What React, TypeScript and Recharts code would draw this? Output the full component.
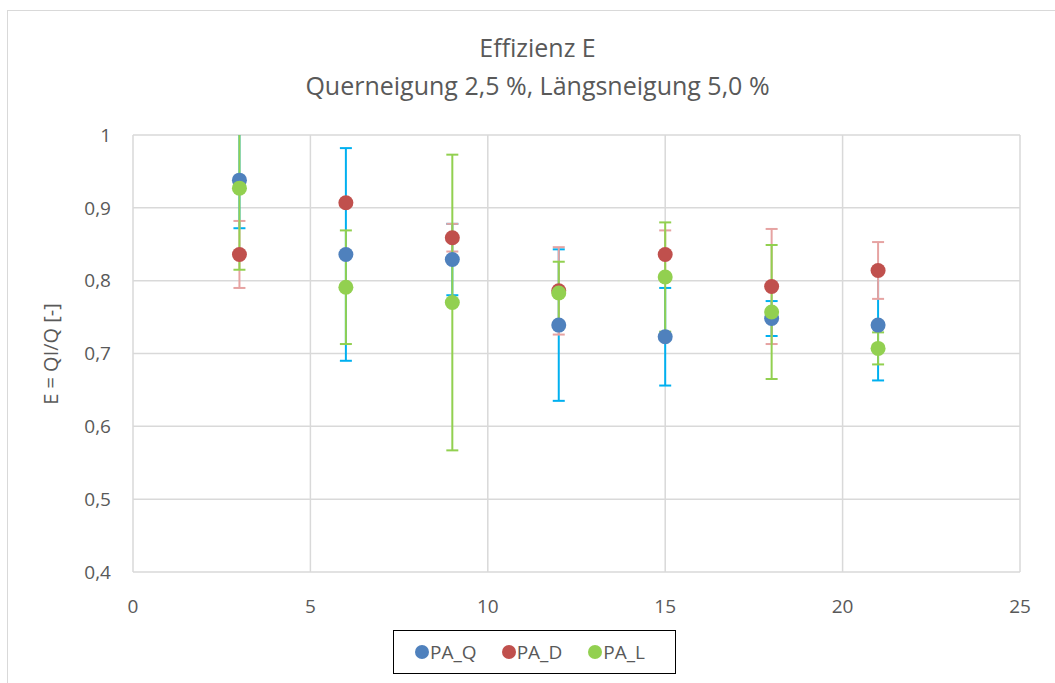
import { ScatterChart, Scatter, XAxis, YAxis, CartesianGrid, ErrorBar } from 'recharts'

// Messpunkte (x-Werte) und Effizienzen je Serie
const xValues = [3, 6, 9, 12, 15, 18, 21]

const paQ = [0.938, 0.836, 0.829, 0.739, 0.723, 0.748, 0.739]
const paQErr = [0.066, 0.146, 0.049, 0.104, 0.067, 0.024, 0.076]

const paD = [0.836, 0.907, 0.859, 0.786, 0.836, 0.792, 0.814]
const paDErr = [0.046, 0.004, 0.019, 0.06, 0.033, 0.079, 0.039]

const paL = [0.927, 0.791, 0.77, 0.783, 0.805, 0.757, 0.707]
const paLErr = [0.112, 0.078, 0.203, 0.043, 0.075, 0.092, 0.022]

const xTicks = [0, 5, 10, 15, 20, 25]
const yTicks = [0.4, 0.5, 0.6, 0.7, 0.8, 0.9, 1]

const FONT = '"Open Sans", "Noto Sans", sans-serif'
const TEXT = '#595959'

const build = (ys: number[], errs: number[]) =>
  xValues.map((x, i) => ({ x, y: ys[i], err: errs[i] }))

const series = [
  { name: 'PA_Q', data: build(paQ, paQErr), color: '#4F81BD', errColor: '#00B0F0' },
  { name: 'PA_D', data: build(paD, paDErr), color: '#C0504D', errColor: '#E6A3A2' },
  { name: 'PA_L', data: build(paL, paLErr), color: '#92D050', errColor: '#92D050' },
]

const formatComma = (v: number) => String(v).replace('.', ',')

const dotShape = (color: string) => (props: any) =>
  <circle cx={props.cx} cy={props.cy} r={7.5} fill={color} />

export default function App() {
  return (
    <div
      style={{
        position: 'absolute',
        left: 0,
        top: 0,
        width: 1055,
        height: 683,
        overflow: 'hidden',
        background: '#fff',
        fontFamily: FONT,
      }}
    >
      {/* Rahmen des Diagrammbereichs */}
      <div
        style={{
          position: 'absolute',
          left: 7,
          top: 10,
          width: 1100,
          height: 720,
          border: '1px solid #D9D9D9',
        }}
      />

      <div
        style={{
          position: 'absolute',
          top: 28,
          left: 0,
          width: 1075,
          textAlign: 'center',
          color: TEXT,
          fontSize: 25,
          lineHeight: '38px',
        }}
      >
        <div>Effizienz E</div>
        <div>Querneigung 2,5 %, Längsneigung 5,0 %</div>
      </div>

      <div
        style={{
          position: 'absolute',
          left: 50,
          top: 354,
          transform: 'translate(-50%, -50%) rotate(-90deg)',
          whiteSpace: 'nowrap',
          color: TEXT,
          fontSize: 20,
        }}
      >
        E = QI/Q [-]
      </div>

      <div style={{ position: 'absolute', left: 0, top: 0 }}>
        <ScatterChart width={1055} height={683} margin={{ top: 135, right: 35, bottom: 71, left: 0 }}>
          <defs>
            <clipPath id="plotClip">
              <rect x={133} y={135} width={887} height={437} />
            </clipPath>
          </defs>
          <style>{'.recharts-errorBars, .recharts-errorBar { clip-path: url(#plotClip); }'}</style>
          <CartesianGrid stroke="#D9D9D9" strokeWidth={1.5} />
          <XAxis
            type="number"
            dataKey="x"
            domain={[0, 25]}
            ticks={xTicks}
            axisLine={false}
            tickLine={false}
            tickSize={0}
            tickMargin={28}
            height={40}
            tick={{ fill: TEXT, fontSize: 19, fontFamily: FONT }}
          />
          <YAxis
            type="number"
            dataKey="y"
            domain={[0.4, 1]}
            ticks={yTicks}
            allowDataOverflow
            axisLine={false}
            tickLine={false}
            tickSize={0}
            tickMargin={22}
            width={133}
            tickFormatter={formatComma}
            tick={{ fill: TEXT, fontSize: 19, fontFamily: FONT }}
          />
          {series.map((s) => (
            <Scatter
              key={s.name}
              name={s.name}
              data={s.data}
              fill={s.color}
              shape={dotShape(s.color)}
              isAnimationActive={false}
            >
              <ErrorBar dataKey="err" direction="y" width={6} stroke={s.errColor} strokeWidth={2} />
            </Scatter>
          ))}
        </ScatterChart>
      </div>

      {/* Legende */}
      <div
        style={{
          position: 'absolute',
          left: 393,
          top: 630,
          width: 283,
          height: 44,
          boxSizing: 'border-box',
          border: '1.5px solid #000',
          display: 'flex',
          alignItems: 'center',
          paddingLeft: 21,
          fontSize: 19,
          color: TEXT,
          background: '#fff',
        }}
      >
        {series.map((s) => (
          <div key={s.name} style={{ display: 'flex', alignItems: 'center', width: 92 }}>
            <span
              style={{
                width: 14,
                height: 14,
                borderRadius: '50%',
                background: s.color,
                display: 'inline-block',
                marginRight: 1,
              }}
            />
            <span>{s.name}</span>
          </div>
        ))}
      </div>
    </div>
  )
}
